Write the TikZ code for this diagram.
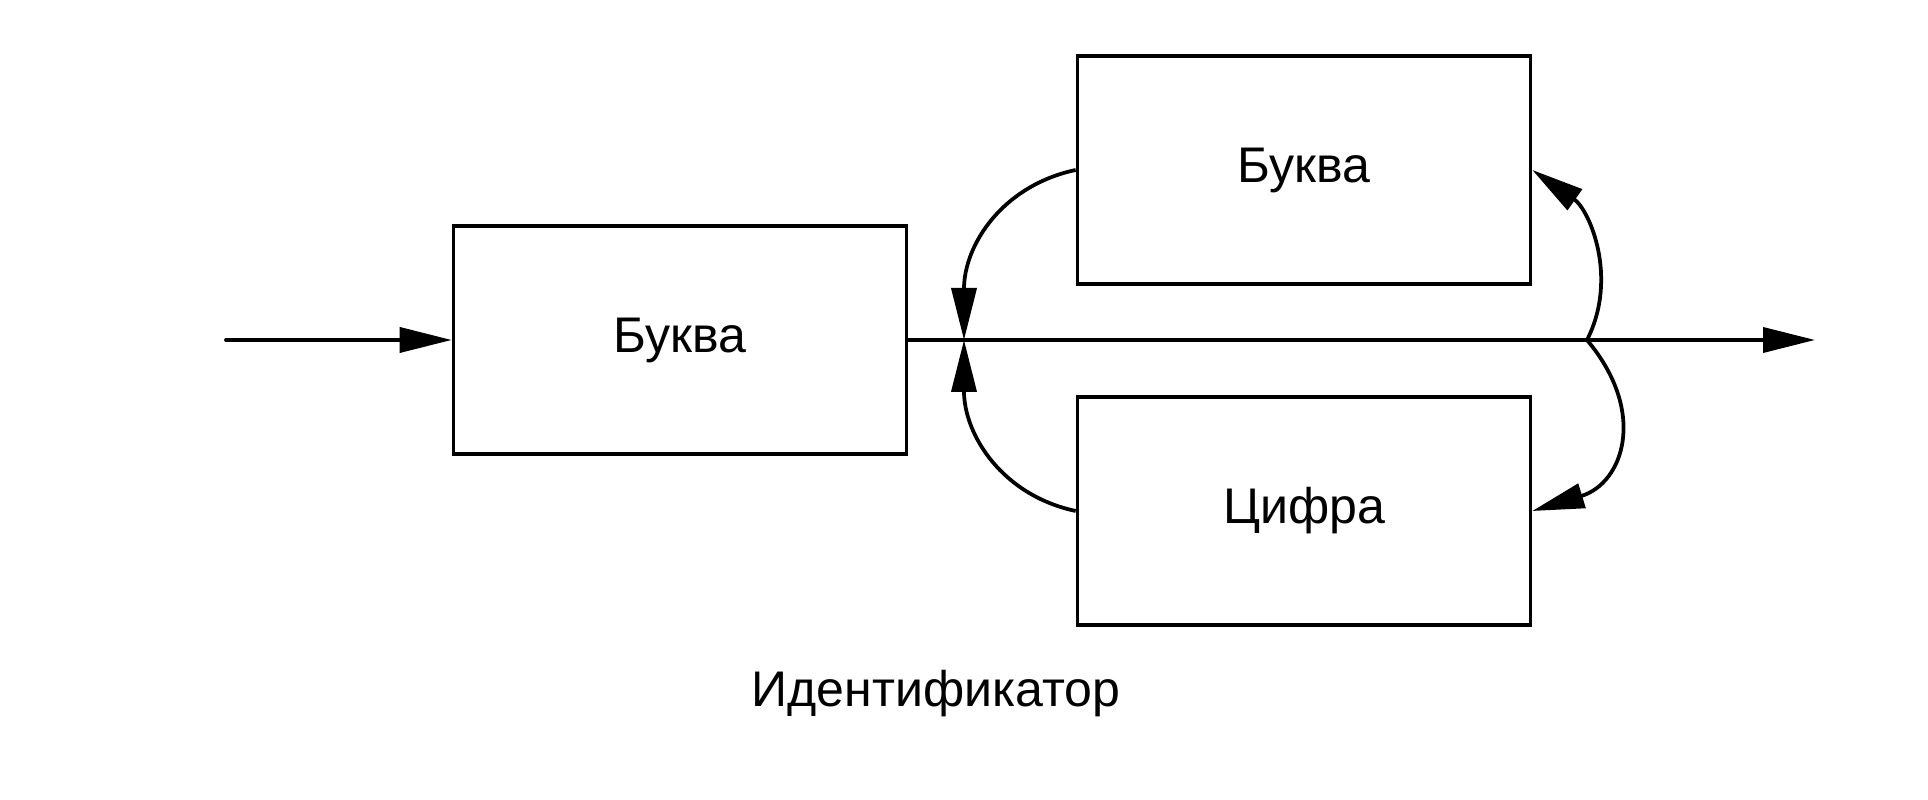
\documentclass[tikz,border=0pt]{standalone}
\usepackage{fontspec}
\setmainfont{Liberation Sans}
\usetikzlibrary{arrows.meta}
\tikzset{
  blok/.style={draw, line width=0.075cm, minimum width=9.06cm, minimum height=4.55cm, inner sep=0pt},
  strelka/.style={line width=0.075cm, -{Triangle[length=1.04cm, width=0.5cm]}}
}
\begin{document}
\begin{tikzpicture}[x=0.02cm, y=0.02cm, font=\fontsize{28.5}{34}\selectfont]
	\useasboundingbox (0,0) rectangle (1928,800);
	\node[blok] (bukva1) at (680,460) {Буква};
	\node[blok] (bukva2) at (1304,630) {Буква};
	\node[blok] (cifra) at (1304,289) {Цифра};
	\coordinate (vhod) at (226,460);
	\coordinate (razv) at (964,460);
	\coordinate (sliv) at (1587,460);
	\coordinate (vyhod) at (1815,460);
	\draw[strelka, line cap=round] (vhod) -- (bukva1.west);
	\draw[strelka] (bukva1.east) -- (vyhod);
	\draw[strelka] (bukva2.west) to[out=192, in=90, out distance=1.5cm, in distance=1.9cm] (razv);
	\draw[strelka] (cifra.west) to[out=168, in=-90, out distance=1.5cm, in distance=1.9cm] (razv);
	\draw[strelka] (sliv) to[out=63, in=-35] (bukva2.east);
	\draw[strelka] (sliv) to[out=-50, in=17, out distance=1.9cm, in distance=1.9cm] (cifra.east);
	\node[anchor=base] (imya) at (936,93) {Идентификатор};
\end{tikzpicture}
\end{document}
